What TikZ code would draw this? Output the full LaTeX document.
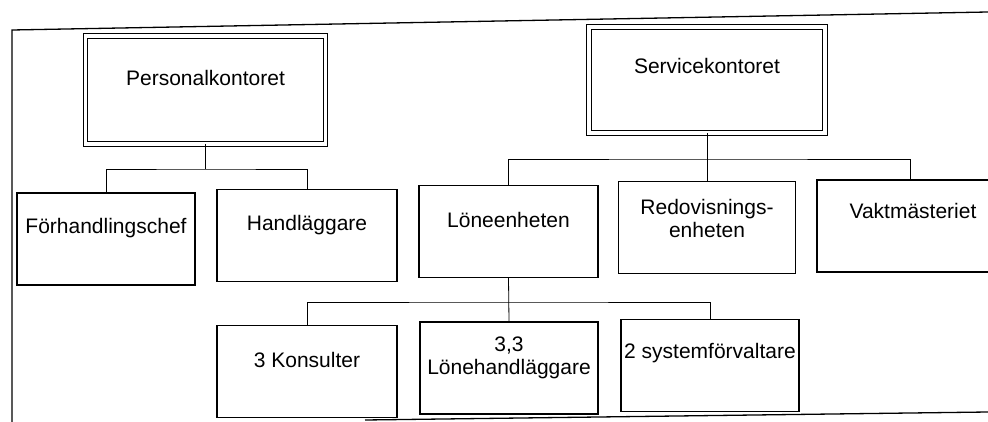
\documentclass[tikz,border=0pt]{standalone}
\usepackage{fontspec}
\setmainfont{Liberation Sans}
\usetikzlibrary{positioning}
\tikzset{
  unitbox/.style={draw,line width=1.1pt,minimum width=178pt,minimum height=92pt,inner sep=0pt},
  headbox/.style={draw,double,line width=1pt,double distance=3.5pt,inner sep=0pt},
  lbl/.style={align=center,inner sep=0pt,font=\fontsize{21}{23}\selectfont},
  conn/.style={line width=0.8pt},
  frame/.style={line width=1.3pt},
}

\begin{document}
\begin{tikzpicture}[x=1pt,y=-1pt]
    \useasboundingbox (0,0) rectangle (988,422);
    % frame
    \draw[frame] (12,422) -- (12,30) -- (988,12);
    \draw[frame] (365,420) -- (988,412);
    % offices
    \node[headbox,minimum width=240pt,minimum height=108pt] (pk) at (205.5,90) {};
    \node[headbox,minimum width=236pt,minimum height=106pt] (sk) at (707,80) {};
    \node[lbl,below=34.5pt of pk.north] (pkt) {Personalkontoret};
    \node[lbl,below=31.5pt of sk.north] (skt) {Servicekontoret};
    % level 2
    \node[unitbox] (fh) at (106,239) {};
    \node[unitbox,minimum width=180pt] (hl) at (307,235.5) {};
    \node[unitbox,minimum width=179pt] (le) at (508.5,231.5) {};
    \node[unitbox,minimum width=177pt] (re) at (707,227.5) {};
    \node[unitbox,minimum width=186pt] (vm) at (910,226) {};
    \node[lbl,below=26pt of fh.north] (fht) {Förhandlingschef};
    \node[lbl,below=26pt of hl.north] (hlt) {Handläggare};
    \node[lbl,below=27pt of le.north] (let) {Löneenheten};
    \node[lbl,below=18pt of re.north] (ret) {Redovisnings-\\enheten};
    \node[lbl,below=24pt of vm.north,xshift=3pt] (vmt) {Vaktmästeriet};
    % level 3
    \node[unitbox,minimum width=180pt] (ks) at (307,371.5) {};
    \node[unitbox] (lh) at (509,368) {};
    \node[unitbox] (sf) at (710,365.5) {};
    \node[lbl,below=27pt of ks.north] (kst) {3 Konsulter};
    \node[lbl,below=15pt of lh.north] (lht) {3,3\\Lönehandläggare};
    \node[lbl,below=24pt of sf.north] (sft) {2 systemförvaltare};
    % connectors
    \coordinate (bar1) at (205.5,169);
    \coordinate (bar2) at (707,159);
    \coordinate (bar3) at (508.5,302);
    \draw[conn] (pk.south) -- (bar1);
    \draw[conn] (fh.north) |- (bar1) -| (hl.north);
    \draw[conn] (sk.south) -- (re.north);
    \draw[conn] (le.north) |- (bar2) -| (vm.north);
    \draw[conn] (le.south) -- (lh.north);
    \draw[conn] (ks.north) |- (bar3) -| (sf.north);
\end{tikzpicture}
\end{document}
